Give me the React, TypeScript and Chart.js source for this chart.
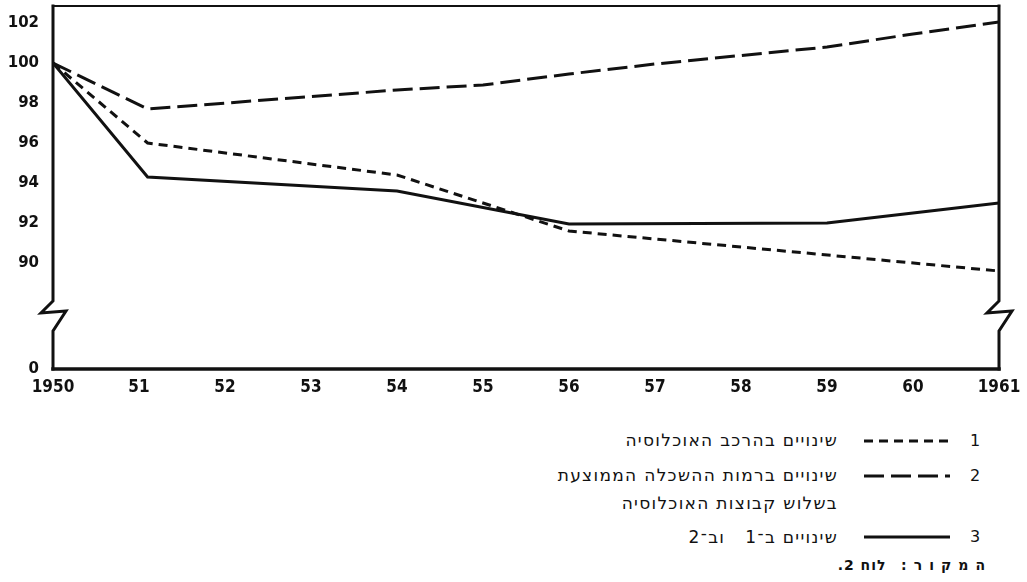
import React, { useEffect, useRef } from "react";
import { Chart, registerables } from "chart.js";

Chart.register(...registerables);

// ---- data ----
const yearTicks = [1950, 1951, 1952, 1953, 1954, 1955, 1956, 1957, 1958, 1959, 1960, 1961];
const yearLabels = ["1950", "51", "52", "53", "54", "55", "56", "57", "58", "59", "60", "1961"];
const yTickValues = [90, 92, 94, 96, 98, 100, 102];
const yBottomLabel = "0";

// 1: changes in population composition (short dash)
const compYears = [1950, 1951.1, 1954, 1956, 1961];
const compValues = [100, 96.0, 94.4, 91.6, 89.6];

// 2: changes in average education levels (long dash)
const eduYears = [1950, 1951.1, 1954, 1955, 1956, 1957, 1959, 1960, 1961];
const eduValues = [100, 97.7, 98.65, 98.9, 99.45, 99.95, 100.8, 101.45, 102.05];

// 3: changes in 1 and 2 (solid)
const bothYears = [1950, 1951.1, 1954, 1956, 1959, 1960.3, 1961];
const bothValues = [100, 94.3, 93.6, 91.95, 92.0, 92.65, 93.0];

const legendLabels = [
  "שינויים בהרכב האוכלוסיה",
  "שינויים ברמות ההשכלה הממוצעת",
  "בשלוש קבוצות האוכלוסיה",
  "שינויים ב־1   וב־2",
];
const sourceHead = "המקור:";
const sourceTail = "לוח 2.";

// ---- axis settings ----
const Y_MIN = 84.7;
const Y_MAX = 102.85;
const BREAK_VALUE = 87.5;
const INK = "#111";

const toPoints = (xs: number[], ys: number[]) => xs.map((x, i) => ({ x, y: ys[i] }));

const framePlugin = {
  id: "frame",
  afterDraw(chart: any) {
    const { ctx, chartArea } = chart;
    const { left: L, right: R, top: T, bottom: B } = chartArea;
    const by = chart.scales.y.getPixelForValue(BREAK_VALUE);
    ctx.save();
    ctx.strokeStyle = INK;
    ctx.lineJoin = "miter";
    ctx.lineCap = "square";
    ctx.lineWidth = 2.2;
    ctx.beginPath();
    ctx.moveTo(L, T);
    ctx.lineTo(R, T);
    ctx.stroke();
    const side = (x: number) => {
      ctx.beginPath();
      ctx.moveTo(x, T);
      ctx.lineTo(x, by - 12);
      ctx.lineTo(x - 12, by);
      ctx.lineTo(x + 13, by - 2);
      ctx.lineTo(x, by + 18);
      ctx.lineTo(x, B);
      ctx.stroke();
    };
    ctx.lineWidth = 3;
    side(L);
    side(R);
    ctx.lineWidth = 3.5;
    ctx.beginPath();
    ctx.moveTo(L, B);
    ctx.lineTo(R, B);
    ctx.stroke();
    ctx.restore();
  },
};

function Sample({ dash }: { dash: string }) {
  return (
    <svg width={90} height={10} style={{ display: "block" }}>
      <line x1={2} y1={5} x2={88} y2={5} stroke={INK} strokeWidth={3} strokeDasharray={dash} />
    </svg>
  );
}

export default function App() {
  const ref = useRef<HTMLCanvasElement>(null);

  useEffect(() => {
    const chart = new Chart(ref.current as HTMLCanvasElement, {
      type: "line",
      data: {
        datasets: [
          {
            label: "1",
            data: toPoints(compYears, compValues),
            borderColor: INK,
            borderWidth: 3,
            borderDash: [9, 6],
            pointRadius: 0,
            tension: 0,
          },
          {
            label: "2",
            data: toPoints(eduYears, eduValues),
            borderColor: INK,
            borderWidth: 3,
            borderDash: [20, 7],
            pointRadius: 0,
            tension: 0,
          },
          {
            label: "3",
            data: toPoints(bothYears, bothValues),
            borderColor: INK,
            borderWidth: 3,
            pointRadius: 0,
            tension: 0,
          },
        ],
      },
      options: {
        responsive: false,
        animation: false,
        events: [],
        layout: { padding: { top: 6, right: 28, left: 0, bottom: 0 } },
        plugins: { legend: { display: false }, tooltip: { enabled: false } },
        scales: {
          x: {
            type: "linear",
            min: 1950,
            max: 1961,
            grid: { display: false, drawTicks: false },
            border: { display: false },
            afterBuildTicks: (s: any) => {
              s.ticks = yearTicks.map((v) => ({ value: v }));
            },
            afterFit: (s: any) => {
              s.height = 31;
              s.paddingLeft = 0;
              s.paddingRight = 0;
            },
            ticks: {
              autoSkip: false,
              maxRotation: 0,
              padding: 8,
              color: INK,
              font: { family: "'DejaVu Sans Condensed', 'Liberation Sans Narrow', 'DejaVu Sans'", size: 17, weight: "bold" },
              callback: (v: any) => {
                const i = yearTicks.indexOf(Number(v));
                return i >= 0 ? yearLabels[i] : "";
              },
            },
          },
          y: {
            type: "linear",
            min: Y_MIN,
            max: Y_MAX,
            grid: { display: false, drawTicks: false },
            border: { display: false },
            afterBuildTicks: (s: any) => {
              s.ticks = [Y_MIN, ...yTickValues].map((v) => ({ value: v }));
            },
            afterFit: (s: any) => {
              s.width = 53;
              s.paddingTop = 0;
              s.paddingBottom = 0;
            },
            ticks: {
              autoSkip: false,
              padding: 14,
              color: INK,
              font: { family: "'DejaVu Sans'", size: 15, weight: "bold" },
              callback: (v: any) => (Number(v) === Y_MIN ? yBottomLabel : String(v)),
            },
          },
        },
      },
      plugins: [framePlugin],
    } as any);
    return () => chart.destroy();
  }, []);

  const textStyle: React.CSSProperties = {
    position: "absolute",
    right: 1027 - 838,
    direction: "rtl",
    fontFamily: "'DejaVu Sans', 'Liberation Sans', sans-serif",
    fontSize: 17,
    letterSpacing: 1.3,
    lineHeight: "20px",
    height: 20,
    color: INK,
    whiteSpace: "pre",
  };
  const numStyle: React.CSSProperties = {
    position: "absolute",
    left: 970,
    fontFamily: "'DejaVu Sans', sans-serif",
    fontSize: 16,
    lineHeight: "20px",
    color: INK,
  };

  return (
    <div
      style={{
        position: "fixed",
        left: 0,
        top: 0,
        width: 1027,
        height: 582,
        background: "#fff",
        overflow: "hidden",
      }}
    >
      <canvas ref={ref} width={1027} height={400} style={{ position: "absolute", left: 0, top: 0, width: 1027, height: 400 }} />

      <div style={{ ...textStyle, top: 430 }}>{legendLabels[0]}</div>
      <div style={{ position: "absolute", left: 862, top: 436 }}>
        <Sample dash="9 6" />
      </div>
      <div style={{ ...numStyle, top: 431 }}>1</div>

      <div style={{ ...textStyle, top: 465 }}>{legendLabels[1]}</div>
      <div style={{ ...textStyle, top: 493 }}>{legendLabels[2]}</div>
      <div style={{ position: "absolute", left: 862, top: 471 }}>
        <Sample dash="20 7" />
      </div>
      <div style={{ ...numStyle, top: 466 }}>2</div>

      <div style={{ ...textStyle, top: 527 }}>{legendLabels[3]}</div>
      <div style={{ position: "absolute", left: 862, top: 532 }}>
        <Sample dash="" />
      </div>
      <div style={{ ...numStyle, top: 527 }}>3</div>

      <div
        style={{
          ...textStyle,
          right: 1027 - 992,
          top: 555,
          fontSize: 14,
          fontWeight: "bold",
          letterSpacing: 0,
        }}
      >
        <span style={{ letterSpacing: 7 }}>{sourceHead}</span>
        {"   "}
        <span style={{ letterSpacing: 1 }}>{sourceTail}</span>
      </div>
    </div>
  );
}
